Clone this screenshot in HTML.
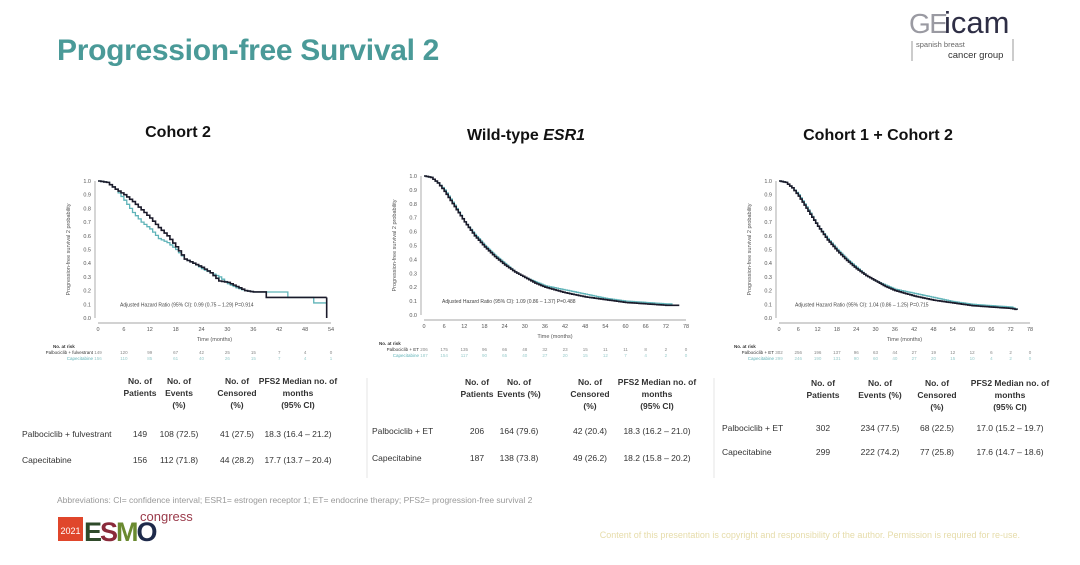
<!DOCTYPE html>
<html><head><meta charset="utf-8"><style>
html,body{margin:0;padding:0;background:#fff;width:1080px;height:565px;overflow:hidden}
svg{display:block;font-family:"Liberation Sans",Arial,sans-serif}
</style></head><body>
<svg id="s" width="1080" height="565" viewBox="0 0 1080 565" xmlns="http://www.w3.org/2000/svg">
<rect width="1080" height="565" fill="#fff"/>
<text x="57" y="60" font-size="30" font-weight="bold" fill="#4a9a98" letter-spacing="-0.3">Progression-free Survival 2</text>
<text x="909" y="33" font-size="28" fill="#9a9aa2" letter-spacing="-1.5">GE</text>
<text x="944" y="33" font-size="31" fill="#2e2e45">icam</text>
<line x1="912" y1="41" x2="912" y2="61" stroke="#999" stroke-width="1"/>
<line x1="1013" y1="39" x2="1013" y2="61" stroke="#999" stroke-width="1"/>
<text x="916" y="47" font-size="7.5" fill="#666">spanish breast</text>
<text x="948" y="58" font-size="9.5" fill="#333">cancer group</text>
<text x="178" y="137" font-size="16" font-weight="bold" text-anchor="middle" fill="#111">Cohort 2</text>
<text x="526" y="140" font-size="16" font-weight="bold" text-anchor="middle" fill="#111">Wild-type <tspan font-style="italic">ESR1</tspan></text>
<text x="878" y="140" font-size="16" font-weight="bold" text-anchor="middle" fill="#111">Cohort 1 + Cohort 2</text>
<g id="charts"></g>
<g id="tables" font-size="8.5" fill="#333"></g>
<line x1="367" y1="378" x2="367" y2="478" stroke="#e6e6e6"/>
<line x1="714" y1="378" x2="714" y2="478" stroke="#e6e6e6"/>
<text x="57" y="503" font-size="8.5" fill="#999">Abbreviations: CI= confidence interval; ESR1= estrogen receptor 1; ET= endocrine therapy; PFS2= progression-free survival 2</text>
<rect x="58" y="517" width="25" height="24" fill="#e0462b"/>
<text x="70.5" y="534" font-size="9" fill="#fff" text-anchor="middle">2021</text>
<text x="84" y="541" font-size="27" font-weight="bold" fill="#2f4a2a" letter-spacing="-2">E<tspan fill="#8a2a3a">S</tspan><tspan fill="#6a8a30">M</tspan><tspan fill="#1e2a4a">O</tspan></text>
<text x="140" y="521" font-size="13" fill="#9a3a4a">congress</text>
<text x="1020" y="538" font-size="9" fill="#e6dcaa" text-anchor="end">Content of this presentation is copyright and responsibility of the author. Permission is required for re-use.</text>
</svg>
<script>
var NS="http://www.w3.org/2000/svg";
function el(p,t,a,txt){var e=document.createElementNS(NS,t);for(var k in a)e.setAttribute(k,a[k]);if(txt!==undefined)e.textContent=txt;p.appendChild(e);return e;}
var G=document.getElementById('charts');
function chart(c){
  var g=el(G,'g',{});
  var X=function(t){return c.x0+t*(c.x1-c.x0)/c.xmax};
  var Y=function(v){return c.y0+(1-v)*(c.y1-c.y0)};
  el(g,'line',{x1:c.x0-3,y1:c.y0,x2:c.x0-3,y2:c.y1,stroke:'#888','stroke-width':0.7});
  el(g,'line',{x1:c.x0,y1:c.y1+5,x2:c.x1,y2:c.y1+5,stroke:'#888','stroke-width':0.7});
  for(var i=0;i<=10;i++){var v=i/10;el(g,'text',{x:c.x0-7,y:Y(v)+2,'font-size':5.5,'text-anchor':'end',fill:'#555'},v.toFixed(1));}
  for(var t=0;t<=c.xmax;t+=6){el(g,'text',{x:X(t),y:c.y1+13,'font-size':5.5,'text-anchor':'middle',fill:'#555'},t);}
  el(g,'text',{x:(c.x0+c.x1)/2,y:c.y1+23,'font-size':5.5,'text-anchor':'middle',fill:'#555'},'Time (months)');
  el(g,'text',{x:0,y:0,'font-size':5.5,'text-anchor':'middle',fill:'#555',transform:'translate('+(c.x0-28)+','+((c.y0+c.y1)/2)+') rotate(-90)'},'Progression-free survival 2 probability');
  el(g,'text',{x:c.hx,y:Y(0.1)+2,'font-size':5,fill:'#444'},c.hr);
  function path(d,col,w){var s='M'+X(d[0][0])+','+Y(d[0][1]);for(var i=1;i<d.length;i++){s+=' H'+X(d[i][0])+' V'+Y(d[i][1]);}el(g,'path',{d:s,fill:'none',stroke:col,'stroke-width':w});}
  function smooth(d){var o=[];for(var i=0;i<d.length-1;i++){var a=d[i],b=d[i+1];var n=Math.max(1,Math.round((b[0]-a[0])*1.5));for(var j=0;j<n;j++){o.push([a[0]+(b[0]-a[0])*j/n,a[1]+(b[1]-a[1])*j/n]);}}o.push(d[d.length-1]);return o;}
  path(smooth(c.teal),'#5fb3b8',1.3);
  path(smooth(c.black),'#1a1a2a',1.6);
  if(c.drop)el(g,'line',{x1:X(c.drop),y1:Y(0.15),x2:X(c.drop),y2:Y(0),stroke:'#1a1a2a','stroke-width':1.6});
  el(g,'text',{x:c.x0-45,y:c.y1+30,'font-size':4.5,'font-weight':'bold',fill:'#333'},'No. at risk');
  el(g,'text',{x:c.x0-5,y:c.y1+36,'font-size':4.5,'text-anchor':'end',fill:'#333'},c.lab);
  el(g,'text',{x:c.x0-5,y:c.y1+42,'font-size':4.5,'text-anchor':'end',fill:'#5fb3b8'},'Capecitabine');
  for(var i=0;i<c.r1.length;i++){el(g,'text',{x:X(i*6),y:c.y1+36,'font-size':4.5,'text-anchor':'middle',fill:'#888'},c.r1[i]);el(g,'text',{x:X(i*6),y:c.y1+42,'font-size':4.5,'text-anchor':'middle',fill:'#9cc'},c.r2[i]);}
}
var gen=[[0,1],[2,0.99],[4,0.95],[6,0.89],[9,0.78],[12,0.67],[15,0.57],[18,0.49],[21,0.42],[24,0.36],[27,0.31],[30,0.27],[33,0.23],[36,0.2],[42,0.16],[48,0.13],[54,0.11],[60,0.09],[66,0.08],[72,0.07]];
var gen2=[[0,1],[2,0.99],[4,0.95],[6,0.9],[9,0.79],[12,0.67],[15,0.58],[18,0.5],[21,0.43],[24,0.37],[27,0.31],[30,0.27],[33,0.24],[36,0.21],[42,0.18],[48,0.15],[54,0.12],[60,0.1],[66,0.09],[72,0.08]];
chart({x0:98,x1:331,xmax:54,y0:181,y1:318,hx:120,hr:'Adjusted Hazard Ratio (95% CI): 0.99 (0.75 – 1.29)     P=0.914',lab:'Palbociclib + fulvestrant',drop:53,
 black:[[0,1],[2,0.99],[4,0.94],[6,0.9],[8,0.85],[10,0.79],[12,0.73],[14,0.66],[16,0.6],[18,0.52],[20,0.43],[22,0.4],[24,0.37],[26,0.33],[28,0.27],[30,0.26],[32,0.23],[34,0.2],[36,0.19],[38.5,0.19],[39,0.15],[53,0.15]],
 teal:[[0,1],[2,0.99],[4,0.94],[6,0.86],[8,0.77],[10,0.7],[12,0.65],[14,0.58],[16,0.55],[18,0.5],[20,0.43],[22,0.4],[24,0.36],[26,0.33],[28,0.3],[30,0.25],[32,0.22],[34,0.2],[36,0.19],[43.5,0.19],[44,0.15],[49.5,0.15],[50,0.11],[53,0.11]],
 r1:[149,120,99,67,42,25,15,7,4,0],r2:[156,110,85,61,40,26,15,7,4,1]});
chart({x0:424,x1:686,xmax:78,y0:176,y1:315,hx:442,hr:'Adjusted Hazard Ratio (95% CI): 1.09 (0.86 – 1.37)     P=0.488',lab:'Palbociclib + ET',
 black:gen.concat([[76,0.07]]),teal:gen2.concat([[74,0.08]]),
 r1:[206,175,135,96,66,48,32,23,15,11,11,8,2,0],r2:[187,154,117,90,65,40,27,20,15,12,7,4,2,0]});
chart({x0:779,x1:1030,xmax:78,y0:181,y1:318,hx:795,hr:'Adjusted Hazard Ratio (95% CI): 1.04 (0.86 – 1.25)     P=0.715',lab:'Palbociclib + ET',
 black:gen.concat([[74,0.06]]),teal:gen2.concat([[74,0.06]]),
 r1:[302,256,196,137,96,63,44,27,19,12,12,6,2,0],r2:[299,246,190,131,90,60,40,27,20,15,10,4,2,0]});
var T=document.getElementById('tables');
function tx(x,y,s,b,anc){el(T,'text',{x:x,y:y,'font-weight':b?'bold':'normal','text-anchor':anc||'middle',fill:'#333'},s);}
function table(o){
  var c=o.cols;
  o.h.forEach(function(col,i){col.forEach(function(s,j){tx(c[i],o.hy+j*12,s,1);});});
  o.rows.forEach(function(r,k){tx(o.lx,o.ry[k],r[0],0,'start');for(var i=1;i<5;i++)tx(c[i-1],o.ry[k],r[i]);});
}
table({cols:[140,179,237,298],hy:384,lx:22,ry:[437,463],
 h:[['No. of','Patients'],['No. of','Events','(%)'],['No. of','Censored','(%)'],['PFS2 Median no. of','months','(95% CI)']],
 rows:[['Palbociclib + fulvestrant','149','108 (72.5)','41 (27.5)','18.3 (16.4 – 21.2)'],['Capecitabine','156','112 (71.8)','44 (28.2)','17.7 (13.7 – 20.4)']]});
table({cols:[477,519,590,657],hy:385,lx:372,ry:[434,461],
 h:[['No. of','Patients'],['No. of','Events (%)'],['No. of','Censored','(%)'],['PFS2 Median no. of','months','(95% CI)']],
 rows:[['Palbociclib + ET','206','164 (79.6)','42 (20.4)','18.3 (16.2 – 21.0)'],['Capecitabine','187','138 (73.8)','49 (26.2)','18.2 (15.8 – 20.2)']]});
table({cols:[823,880,937,1010],hy:386,lx:722,ry:[431,455],
 h:[['No. of','Patients'],['No. of','Events (%)'],['No. of','Censored','(%)'],['PFS2 Median no. of','months','(95% CI)']],
 rows:[['Palbociclib + ET','302','234 (77.5)','68 (22.5)','17.0 (15.2 – 19.7)'],['Capecitabine','299','222 (74.2)','77 (25.8)','17.6 (14.7 – 18.6)']]});
</script>
</body></html>
